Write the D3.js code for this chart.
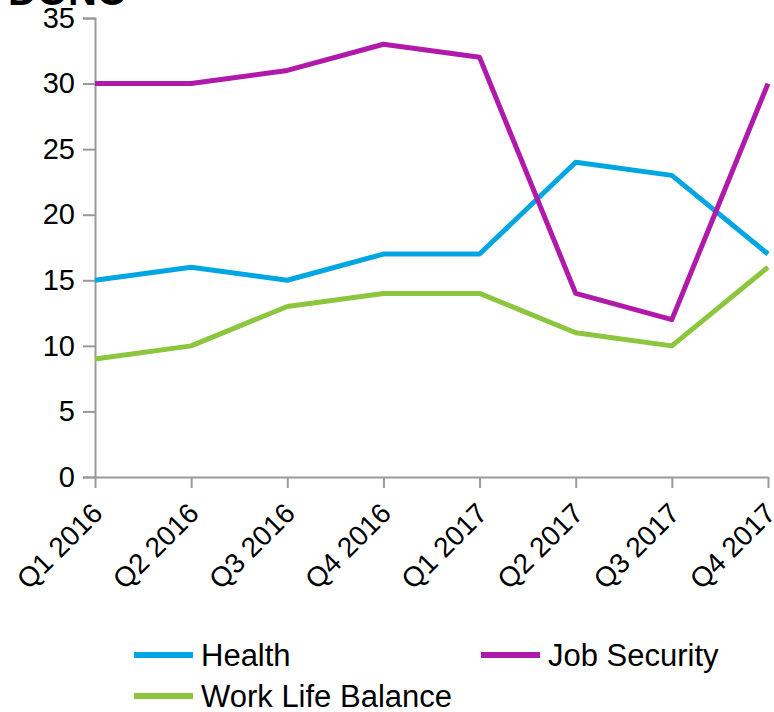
<!DOCTYPE html>
<html>
<head>
<meta charset="utf-8">
<script src="https://cdn.jsdelivr.net/npm/d3@7"></script>
<style>
  body { margin: 0; background: #fff; }
  text { font-family: "Liberation Sans", Arial, sans-serif; }
</style>
</head>
<body>
<script>
const width = 774;
const height = 712;

const quarters = ["Q1 2016", "Q2 2016", "Q3 2016", "Q4 2016", "Q1 2017", "Q2 2017", "Q3 2017", "Q4 2017"];
const health = [15, 16, 15, 17, 17, 24, 23, 17];
const jobSecurity = [30, 30, 31, 33, 32, 14, 12, 30];
const workLife = [9, 10, 13, 14, 14, 11, 10, 16];
const yTicks = [0, 5, 10, 15, 20, 25, 30, 35];

const series = [
    { name: "Health", values: health, color: "#00a6e2" },
    { name: "Job Security", values: jobSecurity, color: "#b01aab" },
    { name: "Work Life Balance", values: workLife, color: "#8cc63e" }
];

const svg = d3.select("body")
    .append("svg")
    .attr("width", width)
    .attr("height", height);

// title, cut off by the top edge
svg.append("text")
    .attr("x", 8)
    .attr("y", 5)
    .attr("font-size", 40)
    .attr("font-weight", "bold")
    .text("DONC");

const x = d3.scalePoint().domain(quarters).range([95, 768]);
const y = d3.scaleLinear().domain([0, 35]).range([477, 18]);

const yAxis = svg.append("g")
    .attr("transform", "translate(95,0)")
    .call(d3.axisLeft(y).tickValues(yTicks).tickSize(12).tickPadding(8));
yAxis.selectAll("text")
    .attr("font-size", 29)
    .attr("fill", "#000")
    .attr("font-family", "Liberation Sans, Arial, sans-serif");

const xAxis = svg.append("g")
    .attr("transform", "translate(0,477)")
    .call(d3.axisBottom(x).tickSize(11).tickSizeOuter(0));
xAxis.selectAll("text")
    .attr("font-size", 28)
    .attr("fill", "#000")
    .attr("font-family", "Liberation Sans, Arial, sans-serif")
    .attr("text-anchor", "end")
    .attr("x", 0)
    .attr("y", 0)
    .attr("dy", "0.7em")
    .attr("transform", "translate(-5,24) rotate(-45)");

svg.selectAll(".domain, .tick line").attr("stroke", "#999").attr("stroke-width", 2);

const line = d3.line()
    .x((d, i) => x(quarters[i]))
    .y(d => y(d));

svg.append("g")
    .selectAll("path")
    .data(series)
    .enter()
    .append("path")
    .attr("d", d => line(d.values))
    .attr("fill", "none")
    .attr("stroke", d => d.color)
    .attr("stroke-width", 5)
    .attr("stroke-linejoin", "round");

// legend
const legendPos = [[134, 655], [481, 655], [134, 696]];
const legend = svg.append("g")
    .selectAll("g")
    .data(series)
    .enter()
    .append("g")
    .attr("transform", (d, i) => `translate(${legendPos[i][0]},${legendPos[i][1]})`);

legend.append("line")
    .attr("x1", 0).attr("x2", 59)
    .attr("stroke", d => d.color)
    .attr("stroke-width", 6);

legend.append("text")
    .attr("x", 67)
    .attr("dy", "0.35em")
    .attr("font-size", 31)
    .text(d => d.name);
</script>
</body>
</html>
